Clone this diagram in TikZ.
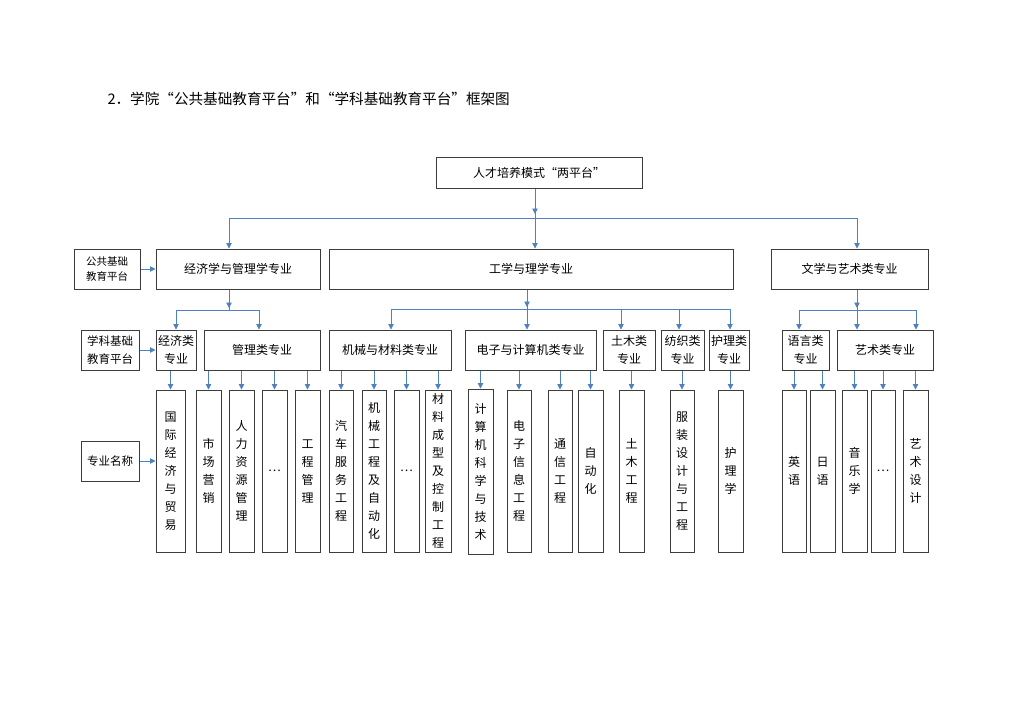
\documentclass[tikz,border=0pt]{standalone}
\usepackage{fontspec}
\setmainfont{Noto Sans CJK SC}
\usetikzlibrary{arrows.meta}
\definecolor{conncol}{RGB}{79,129,189}
\definecolor{boxcol}{RGB}{60,60,60}
\newcommand\qopen{\makebox[1em][r]{“}}
\newcommand\qclose{\makebox[1em][l]{”}}
\newcommand\mybox[7][]{\node[boxst,#1,minimum width={(#5-#3)*1pt},minimum height={(#6-#4)*1pt}] (#2) at ({(#3+#5)/2},{(#4+#6)/2}) {#7};}
\tikzset{
  boxst/.style={draw=boxcol,line width=1pt,inner sep=0pt,align=center,font=\fontsize{12}{18}\selectfont},
  vbox/.style={font=\fontsize{12}{18}\selectfont},
  small/.style={font=\fontsize{10.5}{14.5}\selectfont},
  conn/.style={draw=conncol,line width=0.8pt},
  arr/.style={conn,-{Triangle[width=5.5pt,length=5.5pt]}}
}
\begin{document}
\begin{tikzpicture}[x=1pt,y=-1pt]
\fill[white] (0,0) rectangle (1024,724);
\useasboundingbox (0,0) rectangle (1024,724);
\node[anchor=west,font=\fontsize{14.6}{16}\selectfont] (title) at (104,99) {2．学院\qopen 公共基础教育平台\qclose 和\qopen 学科基础教育平台\qclose 框架图};
% level 0
\mybox{top}{436}{157}{642}{188}{人才培养模式\qopen 两平台\qclose}
% level 1
\mybox[small]{pub}{74}{249}{140}{289}{公共基础\\教育平台}
\mybox{econ}{156}{249}{320}{289}{经济学与管理学专业}
\mybox{eng}{329}{249}{733}{289}{工学与理学专业}
\mybox{lit}{771}{249}{928}{289}{文学与艺术类专业}
% level 2
\mybox[font=\fontsize{11.5}{18}\selectfont]{subj}{81}{330}{139}{370}{学科基础\\教育平台}
\mybox{econc}{156}{330}{196}{370}{经济类\\专业}
\mybox{mgmt}{204}{330}{320}{370}{管理类专业}
\mybox{mech}{329}{330}{451}{370}{机械与材料类专业}
\mybox{elec}{465}{330}{596}{370}{电子与计算机类专业}
\mybox{civil}{603}{330}{655}{370}{土木类\\专业}
\mybox{textl}{661}{330}{704}{370}{纺织类\\专业}
\mybox{nurse}{709}{330}{749}{370}{护理类\\专业}
\mybox{lang}{782}{330}{829}{370}{语言类\\专业}
\mybox{art}{837}{330}{933}{370}{艺术类专业}
% level 3
\mybox[font=\fontsize{11.5}{18}\selectfont]{name}{81}{441}{139}{481}{专业名称}
\mybox[vbox]{m1}{156}{390}{185}{552}{国\\际\\经\\济\\与\\贸\\易}
\mybox[vbox]{m2}{196}{390}{221}{552}{市\\场\\营\\销}
\mybox[vbox]{m3}{229}{390}{254}{552}{人\\力\\资\\源\\管\\理}
\mybox[vbox]{m4}{262}{390}{287}{552}{…}
\mybox[vbox]{m5}{295}{390}{320}{552}{工\\程\\管\\理}
\mybox[vbox]{m6}{329}{390}{353}{552}{汽\\车\\服\\务\\工\\程}
\mybox[vbox]{m7}{362}{390}{386}{552}{机\\械\\工\\程\\及\\自\\动\\化}
\mybox[vbox]{m8}{394}{390}{419}{552}{…}
\mybox[vbox]{m9}{425}{390}{451}{552}{材\\料\\成\\型\\及\\控\\制\\工\\程}
\mybox[vbox]{m10}{468}{389}{493}{554}{计\\算\\机\\科\\学\\与\\技\\术}
\mybox[vbox]{m11}{507}{390}{531}{552}{电\\子\\信\\息\\工\\程}
\mybox[vbox]{m12}{548}{390}{572}{552}{通\\信\\工\\程}
\mybox[vbox]{m13}{578}{390}{603}{552}{自\\动\\化}
\mybox[vbox]{m14}{619}{390}{644}{552}{土\\木\\工\\程}
\mybox[vbox]{m15}{670}{390}{694}{552}{服\\装\\设\\计\\与\\工\\程}
\mybox[vbox]{m16}{718}{390}{743}{552}{护\\理\\学}
\mybox[vbox]{m17}{782}{390}{806}{552}{英\\语}
\mybox[vbox]{m18}{810}{390}{835}{552}{日\\语}
\mybox[vbox]{m19}{842}{390}{867}{552}{音\\乐\\学}
\mybox[vbox]{m20}{871}{390}{895}{552}{…}
\mybox[vbox]{m21}{903}{390}{928}{552}{艺\\术\\设\\计}
% top fork
\coordinate (jT) at (535,218);
\coordinate (tL) at (229,218);
\coordinate (tR) at (857,218);
\draw[conn] (top.south -| jT) -- (jT);
\draw[arr] (top.south -| jT) -- ([yshift=4pt]jT);
\draw[conn] (tL) -- (tR);
\draw[arr] (tL) -- (tL |- econ.north);
\draw[arr] (jT) -- (jT |- eng.north);
\draw[arr] (tR) -- (tR |- lit.north);
% econ fork
\coordinate (jE) at (229,310);
\coordinate (eL) at (176,310);
\coordinate (eR) at (259,310);
\draw[conn] (econ.south -| jE) -- (jE);
\draw[arr] (econ.south -| jE) -- ([yshift=2pt]jE);
\draw[conn] (eL) -- (eR);
\draw[arr] (eL) -- (eL |- econc.north);
\draw[arr] (eR) -- (eR |- mgmt.north);
% eng fork
\coordinate (jG) at (527,309);
\coordinate (g1) at (391,309);
\coordinate (g3) at (621,309);
\coordinate (g4) at (679,309);
\coordinate (g5) at (730,309);
\draw[conn] (eng.south -| jG) -- (jG);
\draw[arr] (eng.south -| jG) -- ([yshift=2pt]jG);
\draw[conn] (g1) -- (g5);
\draw[arr] (g1) -- (g1 |- mech.north);
\draw[arr] (jG) -- (jG |- elec.north);
\draw[arr] (g3) -- (g3 |- civil.north);
\draw[arr] (g4) -- (g4 |- textl.north);
\draw[arr] (g5) -- (g5 |- nurse.north);
% lit fork
\coordinate (jL) at (857,310);
\coordinate (l1) at (799,310);
\coordinate (l3) at (916,310);
\draw[conn] (lit.south -| jL) -- (jL);
\draw[arr] (lit.south -| jL) -- ([yshift=2pt]jL);
\draw[conn] (l1) -- (l3);
\draw[arr] (l1) -- (l1 |- lang.north);
\draw[arr] (jL) -- (jL |- art.north);
\draw[arr] (l3) -- (l3 |- art.north);
% level 3 arrows
\foreach \p/\c in {econc/m1,mgmt/m2,mgmt/m3,mgmt/m4,mgmt/m5,mech/m6,mech/m7,mech/m8,mech/m9,elec/m10,elec/m11,elec/m12,elec/m13,civil/m14,textl/m15,nurse/m16,lang/m17,lang/m18,art/m19,art/m20,art/m21}
  \draw[arr] (\c.north |- \p.south) -- (\c.north);
% side labels
\draw[arr] (pub.east) -- (econ.west);
\draw[arr] (subj.east) -- (econc.west);
\draw[arr] (name.east) -- (name.east -| m1.west);
\end{tikzpicture}
\end{document}
